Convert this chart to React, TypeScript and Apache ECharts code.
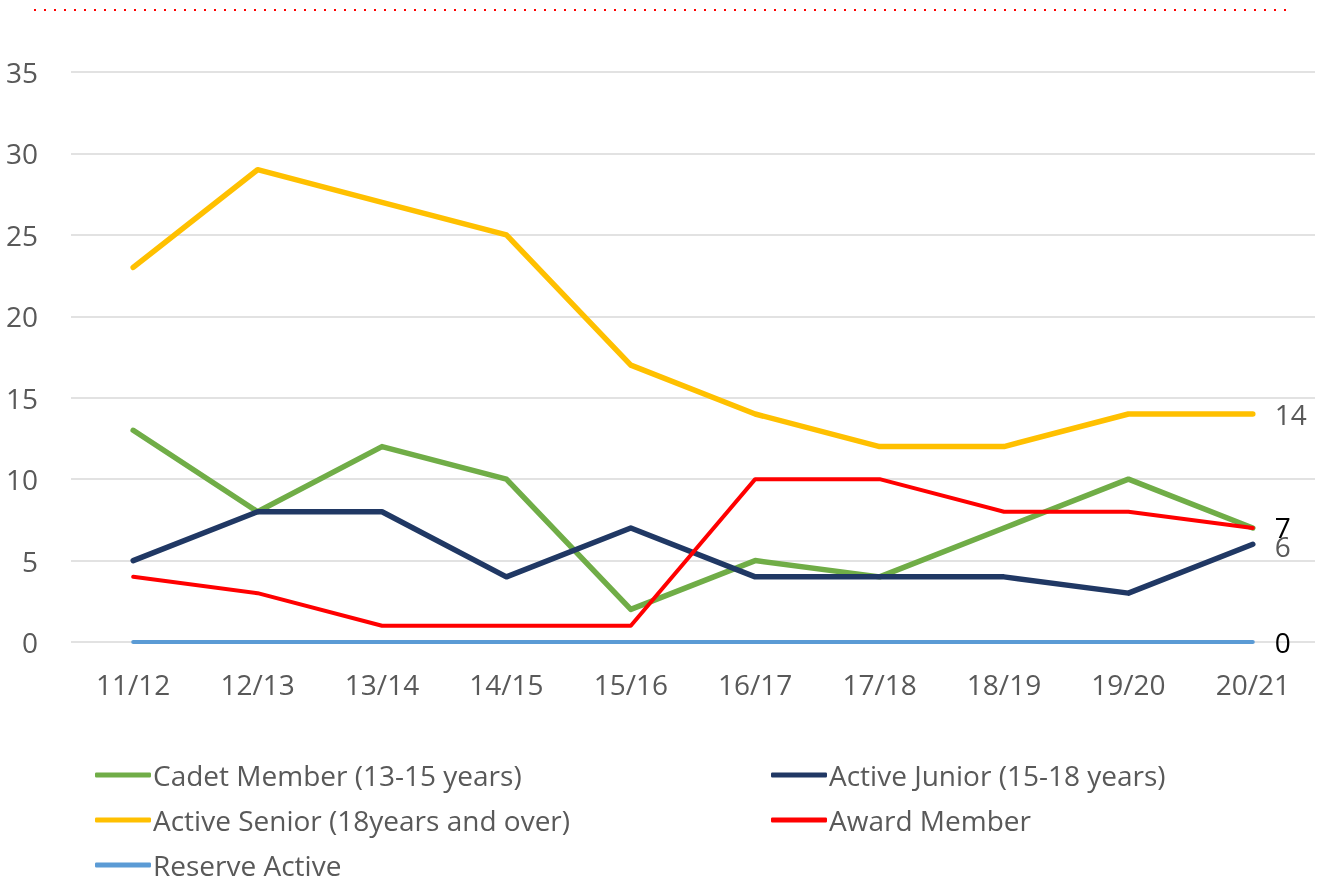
import React, { useEffect, useRef } from "react";
import * as echarts from "echarts";

const categories = ["11/12", "12/13", "13/14", "14/15", "15/16", "16/17", "17/18", "18/19", "19/20", "20/21"];
const cadet = [13, 8, 12, 10, 2, 5, 4, 7, 10, 7];
const junior = [5, 8, 8, 4, 7, 4, 4, 4, 3, 6];
const senior = [23, 29, 27, 25, 17, 14, 12, 12, 14, 14];
const award = [4, 3, 1, 1, 1, 10, 10, 8, 8, 7];
const reserve = [0, 0, 0, 0, 0, 0, 0, 0, 0, 0];
const yTicks = [0, 5, 10, 15, 20, 25, 30, 35];

const FONT = "Open Sans";
const FS = 28;

export default function App() {
  const ref = useRef<HTMLDivElement>(null);
  useEffect(() => {
    if (!ref.current) return;
    const chart = echarts.init(ref.current, undefined, { renderer: "svg" });
    const endLabel = (color: string, dy = 0) => ({
      show: true,
      distance: 22,
      color,
      fontSize: FS,
      fontFamily: FONT,
      offset: [0, dy],
      formatter: (p: any) => String(p.value),
    });
    const mk = (name: string, data: number[], color: string, width: number, label?: any) => ({
      name,
      type: "line",
      data,
      symbol: "none",
      clip: false,
      lineStyle: { color, width, cap: "round", join: "round" },
      itemStyle: { color },
      endLabel: label || { show: false },
    });
    const legendBase = {
      orient: "vertical",
      top: 761,
      padding: 0,
      itemWidth: 56,
      itemHeight: 5,
      itemGap: 17,
      icon: "roundRect",
      textStyle: { color: "#595959", fontSize: FS, fontFamily: FONT, padding: [0, 0, 0, -3] },
    };
    chart.setOption({
      animation: false,
      grid: { left: 71, right: 14, top: 72, bottom: 243, containLabel: false },
      xAxis: {
        type: "category",
        data: categories,
        boundaryGap: true,
        axisLine: { show: false },
        axisTick: { show: false },
        axisLabel: { color: "#595959", fontSize: FS, fontFamily: FONT, margin: 28 },
      },
      yAxis: {
        type: "value",
        min: 0,
        max: 35,
        interval: 5,
        axisLine: { show: false },
        axisTick: { show: false },
        splitLine: { lineStyle: { color: "#D9D9D9", width: 1.5 } },
        axisLabel: {
          color: "#595959",
          fontSize: FS,
          fontFamily: FONT,
          margin: 33,
          formatter: (v: number) => (yTicks.includes(v) ? String(v) : ""),
        },
      },
      legend: [
        {
          ...legendBase,
          left: 95,
          data: ["Cadet Member (13-15 years)", "Active Senior (18years and over)", "Reserve Active"],
        },
        {
          ...legendBase,
          left: 771,
          data: ["Active Junior (15-18 years)", "Award Member"],
        },
      ],
      graphic: [
        {
          type: "line",
          shape: { x1: 34, y1: 10, x2: 1286, y2: 10 },
          style: { stroke: "#FF0000", lineWidth: 2, lineDash: [2, 8] },
        },
      ],
      series: [
        mk("Cadet Member (13-15 years)", cadet, "#70AD47", 5.5),
        mk("Active Junior (15-18 years)", junior, "#203864", 5.5, endLabel("#595959", 2)),
        mk("Active Senior (18years and over)", senior, "#FFC000", 5.5, endLabel("#595959")),
        mk("Award Member", award, "#FF0000", 4, endLabel("#000000", -1)),
        mk("Reserve Active", reserve, "#5B9BD5", 4, endLabel("#000000")),
      ],
    });
    return () => chart.dispose();
  }, []);
  return <div ref={ref} style={{ position: "fixed", left: 0, top: 0, width: 1329, height: 885 }} />;
}
